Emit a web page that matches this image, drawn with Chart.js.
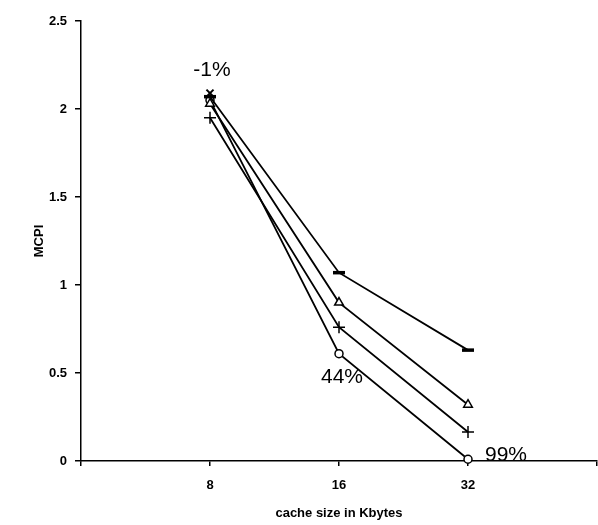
<!DOCTYPE html>
<html>
<head>
<meta charset="utf-8">
<script src="https://cdn.jsdelivr.net/npm/chart.js@4"></script>
<style>
  html, body { margin: 0; padding: 0; background: #fff; }
  #wrap { width: 598px; height: 525px; }
</style>
</head>
<body>
<div id="wrap"><canvas id="mcpiChart" width="598" height="525"></canvas></div>
<script>
// cache sizes (Kbytes) and their slot on the x axis
const cacheSizes = ['8', '16', '32'];
const slots = [1, 2, 3];

// MCPI per configuration
const seriesDash = [2.07, 1.07, 0.63];
const seriesTriangle = [2.03, 0.90, 0.32];
const seriesPlus = [1.95, 0.76, 0.165];
const seriesCircle = [2.05, 0.61, 0.01];
const seriesX = [2.09, null, null];

// percentage labels: [slot index, value, text]
const notes = [
  [0, 2.09, '-1%'],
  [1, 0.61, '44%'],
  [2, 0.01, '99%'],
];

const yTicks = [0, 0.5, 1, 1.5, 2, 2.5];

const toPoints = (arr) => arr.map((v, i) => ({ x: slots[i], y: v }));

const baseSet = (arr, style, radius) => ({
  data: toPoints(arr),
  borderColor: '#000',
  backgroundColor: '#fff',
  borderWidth: 1.8,
  pointStyle: style,
  pointRadius: radius,
  pointBorderWidth: 1.5,
  pointBorderColor: '#000',
  pointBackgroundColor: '#fff',
  tension: 0,
  spanGaps: false,
  clip: false,
});

const datasets = [
  { ...baseSet(seriesDash, 'line', 6), pointBorderWidth: 3.5 },
  baseSet(seriesTriangle, 'triangle', 5),
  baseSet(seriesPlus, 'cross', 6),
  baseSet(seriesCircle, 'circle', 4),
  { ...baseSet(seriesCircle, 'crossRot', 4), showLine: false },
  { ...baseSet(seriesX, 'crossRot', 5), showLine: false, pointBorderWidth: 2 },
];

const notePlugin = {
  id: 'notes',
  afterDatasetsDraw(chart) {
    const { ctx, scales } = chart;
    ctx.save();
    ctx.fillStyle = '#000';
    ctx.font = '21px "Liberation Sans", Arial, sans-serif';
    notes.forEach(([i, v, text]) => {
      const px = scales.x.getPixelForValue(slots[i]);
      const py = scales.y.getPixelForValue(v);
      if (i === 0) {
        ctx.textAlign = 'center';
        ctx.textBaseline = 'bottom';
        ctx.fillText(text, px + 2, py - 12);
      } else if (i === 1) {
        ctx.textAlign = 'center';
        ctx.textBaseline = 'top';
        ctx.fillText(text, px + 3, py + 13);
      } else {
        ctx.textAlign = 'left';
        ctx.textBaseline = 'middle';
        ctx.fillText(text, px + 17, py - 4);
      }
    });
    ctx.restore();
  },
};

const ctx = document.getElementById('mcpiChart').getContext('2d');
new Chart(ctx, {
  type: 'line',
  data: { datasets: datasets },
  options: {
    responsive: false,
    animation: false,
    layout: { autoPadding: false, padding: { top: 21, right: 1, left: 0, bottom: 0 } },
    plugins: {
      legend: { display: false },
      tooltip: { enabled: false },
    },
    scales: {
      x: {
        type: 'linear',
        min: 0,
        max: 4,
        afterFit: (scale) => {
          scale.height = 64;
          scale.paddingRight = 0;
          scale.paddingLeft = 0;
        },
        afterBuildTicks: (scale) => {
          scale.ticks = [0, 1, 2, 3, 4].map((v) => ({ value: v }));
        },
        ticks: {
          color: '#000',
          font: { family: '"Liberation Sans", Arial', size: 13, weight: 'bold' },
          padding: 12,
          callback: (v) => (slots.includes(v) ? cacheSizes[slots.indexOf(v)] : ''),
        },
        grid: { drawOnChartArea: false, color: '#000', tickLength: 5, lineWidth: 1.5 },
        border: { color: '#000', width: 1.5 },
        title: {
          display: true,
          text: 'cache size in Kbytes',
          color: '#000',
          font: { family: '"Liberation Sans", Arial', size: 13, weight: 'bold' },
          padding: { top: 0 },
        },
      },
      y: {
        min: 0,
        max: 2.5,
        afterFit: (scale) => { scale.width = 81; },
        afterBuildTicks: (scale) => {
          scale.ticks = yTicks.map((v) => ({ value: v }));
        },
        ticks: {
          color: '#000',
          font: { family: '"Liberation Sans", Arial', size: 13, weight: 'bold' },
          padding: 8,
          callback: (v) => String(v),
        },
        grid: { drawOnChartArea: false, color: '#000', tickLength: 6, lineWidth: 1.5 },
        border: { color: '#000', width: 1.5 },
        title: {
          display: true,
          text: 'MCPI',
          color: '#000',
          font: { family: '"Liberation Sans", Arial', size: 13, weight: 'bold' },
          padding: { top: 32, bottom: 0 },
        },
      },
    },
  },
  plugins: [notePlugin],
});
</script>
</body>
</html>
